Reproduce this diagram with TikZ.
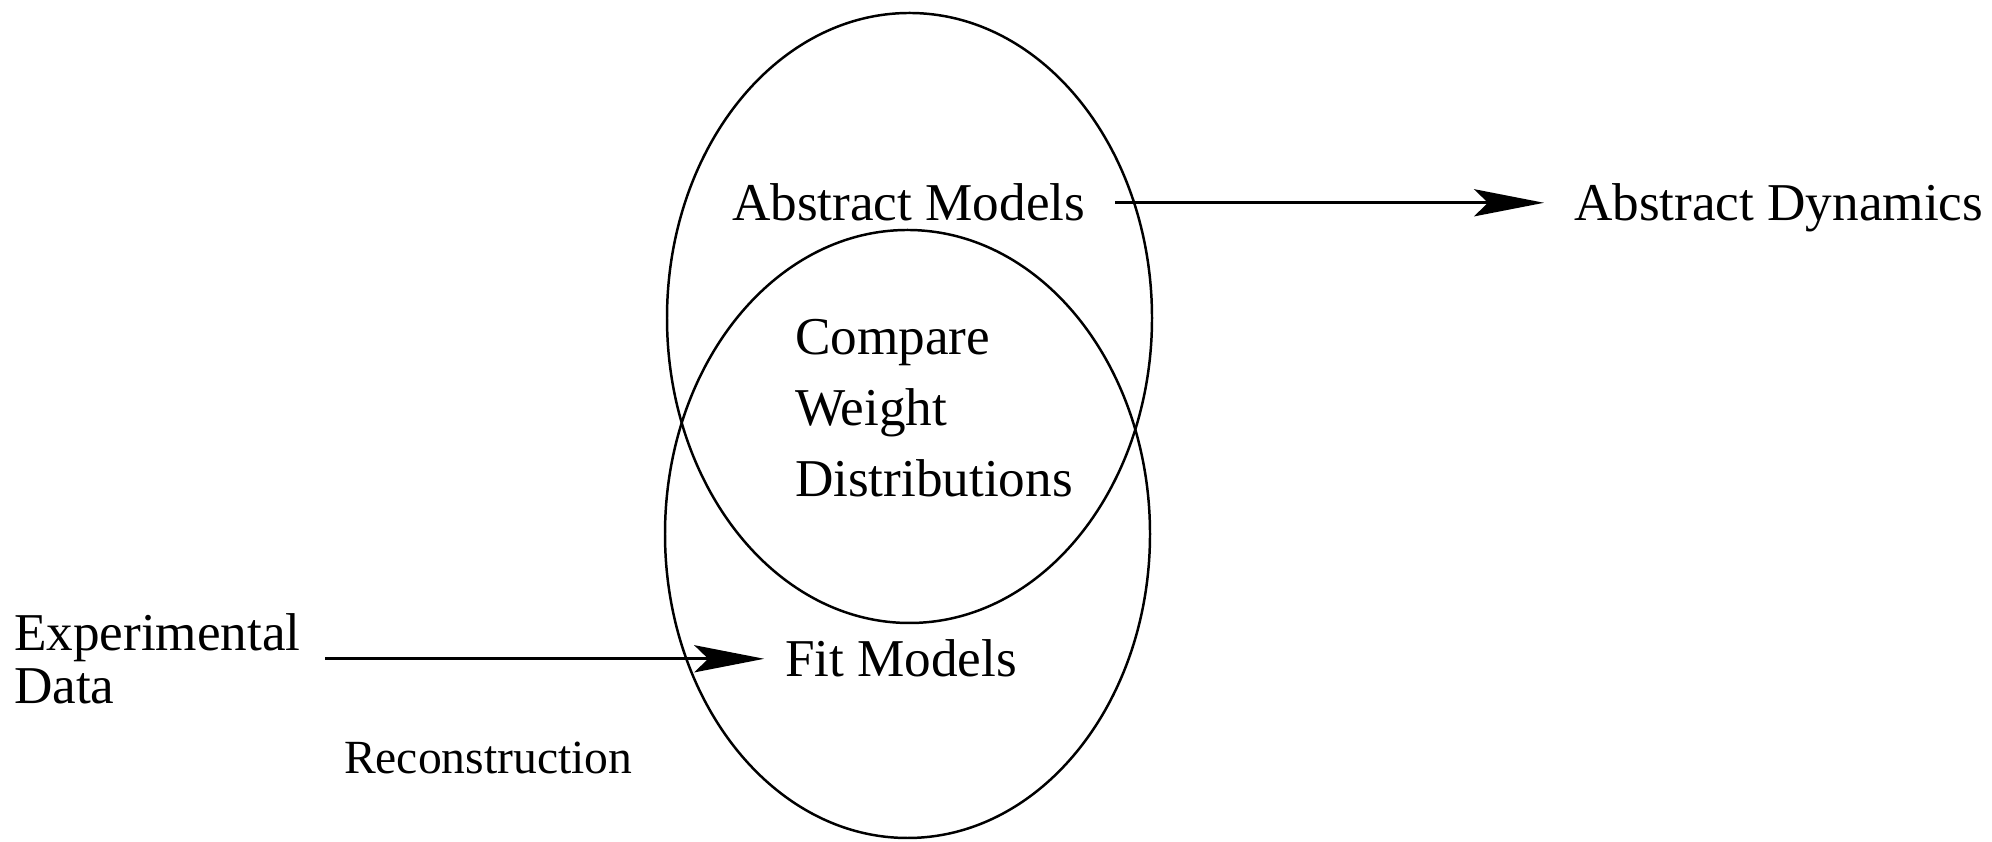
\documentclass[tikz,border=0pt]{standalone}
\usepackage{fontspec}
\setmainfont{Liberation Serif}
\usetikzlibrary{arrows.meta}
\begin{document}
\begin{tikzpicture}[x=0.25pt,y=-0.25pt,
  lbl/.style={inner sep=0pt,outer sep=0pt,font=\fontsize{13.3}{13.3}\selectfont},
  small/.style={inner sep=0pt,outer sep=0pt,font=\fontsize{11.9}{11.9}\selectfont},
  ring/.style={line width=0.62pt},
  flow/.style={line width=0.65pt,-{Stealth[length=17.5pt,width=6.8pt,inset=3.5pt]}}]
\useasboundingbox (0,0) rectangle (1992,842);

% the two overlapping model sets
\draw[ring] (909.5,318) ellipse [x radius=242.5, y radius=305];
\draw[ring] (907.5,534) ellipse [x radius=242.5, y radius=304];

% labels (multi-line nodes are anchored at the baseline of their last line)
\node[lbl,anchor=base west] (am) at (732,221) {Abstract Models};
\node[lbl,anchor=base west] (ad) at (1574,221) {Abstract Dynamics};
\node[lbl,anchor=base west] (fm) at (785,677) {Fit Models};
\node[lbl,anchor=base west,align=left,font=\fontsize{13.3}{17.75}\selectfont]
  (cw) at (795,497) {Compare\\Weight\\Distributions};
\node[lbl,anchor=base west,align=left] (ed) at (14,704) {Experimental\\Data};
\node[small,anchor=base west] (rc) at (344,774) {Reconstruction};

% connectors
\draw[flow,shorten <=7.5pt,shorten >=7.5pt] (am.east) -- (am.east -| ad.west);
\draw[flow,shorten <=6.2pt,shorten >=5.2pt] (ed.east |- fm.west) -- (fm.west);
\end{tikzpicture}
\end{document}
